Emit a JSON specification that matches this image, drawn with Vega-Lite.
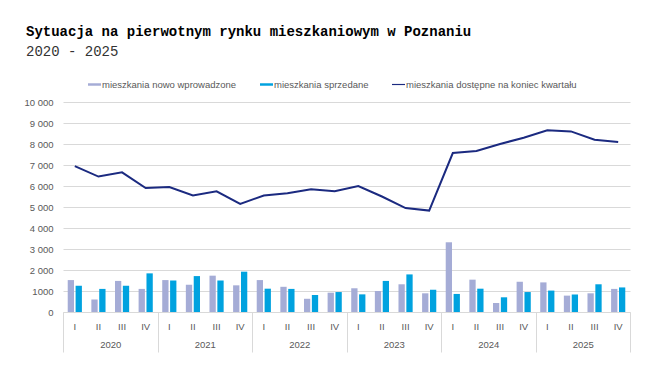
{
  "$schema": "https://vega.github.io/schema/vega-lite/v6.json",
  "width": 567,
  "height": 210,
  "autosize": {"type": "none"},
  "padding": {"left": 63, "top": 102, "right": 38, "bottom": 64},
  "background": "white",
  "config": {
    "view": {"stroke": null},
    "font": "Liberation Sans"
  },
  "title": {
    "text": "Sytuacja na pierwotnym rynku mieszkaniowym w Poznaniu",
    "subtitle": "2020 - 2025",
    "anchor": "start",
    "frame": "group",
    "dx": -37,
    "font": "Liberation Mono",
    "fontSize": 14,
    "fontWeight": "bold",
    "color": "#000000",
    "subtitleFont": "Liberation Mono",
    "subtitleFontSize": 14,
    "subtitleColor": "#333333",
    "subtitlePadding": 6,
    "offset": 19
  },
  "datasets": {
    "bars": [
      {"period": "2020-I", "series": "mieszkania nowo wprowadzone", "value": 1520},
      {"period": "2020-I", "series": "mieszkania sprzedane", "value": 1250},
      {"period": "2020-II", "series": "mieszkania nowo wprowadzone", "value": 590},
      {"period": "2020-II", "series": "mieszkania sprzedane", "value": 1100},
      {"period": "2020-III", "series": "mieszkania nowo wprowadzone", "value": 1480},
      {"period": "2020-III", "series": "mieszkania sprzedane", "value": 1250},
      {"period": "2020-IV", "series": "mieszkania nowo wprowadzone", "value": 1100},
      {"period": "2020-IV", "series": "mieszkania sprzedane", "value": 1840},
      {"period": "2021-I", "series": "mieszkania nowo wprowadzone", "value": 1520},
      {"period": "2021-I", "series": "mieszkania sprzedane", "value": 1500},
      {"period": "2021-II", "series": "mieszkania nowo wprowadzone", "value": 1300},
      {"period": "2021-II", "series": "mieszkania sprzedane", "value": 1710},
      {"period": "2021-III", "series": "mieszkania nowo wprowadzone", "value": 1730},
      {"period": "2021-III", "series": "mieszkania sprzedane", "value": 1500},
      {"period": "2021-IV", "series": "mieszkania nowo wprowadzone", "value": 1270},
      {"period": "2021-IV", "series": "mieszkania sprzedane", "value": 1920},
      {"period": "2022-I", "series": "mieszkania nowo wprowadzone", "value": 1520},
      {"period": "2022-I", "series": "mieszkania sprzedane", "value": 1110},
      {"period": "2022-II", "series": "mieszkania nowo wprowadzone", "value": 1200},
      {"period": "2022-II", "series": "mieszkania sprzedane", "value": 1100},
      {"period": "2022-III", "series": "mieszkania nowo wprowadzone", "value": 630},
      {"period": "2022-III", "series": "mieszkania sprzedane", "value": 810},
      {"period": "2022-IV", "series": "mieszkania nowo wprowadzone", "value": 920},
      {"period": "2022-IV", "series": "mieszkania sprzedane", "value": 950},
      {"period": "2023-I", "series": "mieszkania nowo wprowadzone", "value": 1130},
      {"period": "2023-I", "series": "mieszkania sprzedane", "value": 840},
      {"period": "2023-II", "series": "mieszkania nowo wprowadzone", "value": 1000},
      {"period": "2023-II", "series": "mieszkania sprzedane", "value": 1480},
      {"period": "2023-III", "series": "mieszkania nowo wprowadzone", "value": 1320},
      {"period": "2023-III", "series": "mieszkania sprzedane", "value": 1790},
      {"period": "2023-IV", "series": "mieszkania nowo wprowadzone", "value": 890},
      {"period": "2023-IV", "series": "mieszkania sprzedane", "value": 1060},
      {"period": "2024-I", "series": "mieszkania nowo wprowadzone", "value": 3320},
      {"period": "2024-I", "series": "mieszkania sprzedane", "value": 860},
      {"period": "2024-II", "series": "mieszkania nowo wprowadzone", "value": 1540},
      {"period": "2024-II", "series": "mieszkania sprzedane", "value": 1110},
      {"period": "2024-III", "series": "mieszkania nowo wprowadzone", "value": 430},
      {"period": "2024-III", "series": "mieszkania sprzedane", "value": 700},
      {"period": "2024-IV", "series": "mieszkania nowo wprowadzone", "value": 1440},
      {"period": "2024-IV", "series": "mieszkania sprzedane", "value": 950},
      {"period": "2025-I", "series": "mieszkania nowo wprowadzone", "value": 1410},
      {"period": "2025-I", "series": "mieszkania sprzedane", "value": 1020},
      {"period": "2025-II", "series": "mieszkania nowo wprowadzone", "value": 780},
      {"period": "2025-II", "series": "mieszkania sprzedane", "value": 830},
      {"period": "2025-III", "series": "mieszkania nowo wprowadzone", "value": 890},
      {"period": "2025-III", "series": "mieszkania sprzedane", "value": 1320},
      {"period": "2025-IV", "series": "mieszkania nowo wprowadzone", "value": 1100},
      {"period": "2025-IV", "series": "mieszkania sprzedane", "value": 1170}
    ],
    "line": [
      {"period": "2020-I", "value": 6950},
      {"period": "2020-II", "value": 6450},
      {"period": "2020-III", "value": 6650},
      {"period": "2020-IV", "value": 5900},
      {"period": "2021-I", "value": 5950},
      {"period": "2021-II", "value": 5550},
      {"period": "2021-III", "value": 5750},
      {"period": "2021-IV", "value": 5150},
      {"period": "2022-I", "value": 5550},
      {"period": "2022-II", "value": 5650},
      {"period": "2022-III", "value": 5850},
      {"period": "2022-IV", "value": 5750},
      {"period": "2023-I", "value": 6000},
      {"period": "2023-II", "value": 5500},
      {"period": "2023-III", "value": 4950},
      {"period": "2023-IV", "value": 4830},
      {"period": "2024-I", "value": 7570},
      {"period": "2024-II", "value": 7670},
      {"period": "2024-III", "value": 8000},
      {"period": "2024-IV", "value": 8300},
      {"period": "2025-I", "value": 8650},
      {"period": "2025-II", "value": 8600},
      {"period": "2025-III", "value": 8200},
      {"period": "2025-IV", "value": 8100}
    ],
    "years": [
      {"year": "2020"}, {"year": "2021"}, {"year": "2022"},
      {"year": "2023"}, {"year": "2024"}, {"year": "2025"}
    ]
  },
  "layer": [
    {
      "layer": [
        {
          "data": {"name": "bars"},
          "mark": {"type": "bar"},
          "encoding": {
            "x": {
              "field": "period",
              "type": "nominal",
              "sort": null,
              "scale": {"paddingInner": 0.4, "paddingOuter": 0.2},
              "axis": {
                "title": null,
                "labelExpr": "split(datum.value, '-')[1]",
                "labelAngle": 0,
                "ticks": false,
                "domain": true,
                "domainColor": "#D9D9D9",
                "labelColor": "#595959",
                "labelFontSize": 9.5,
                "labelPadding": 9
              }
            },
            "xOffset": {
              "field": "series",
              "type": "nominal",
              "sort": ["mieszkania nowo wprowadzone", "mieszkania sprzedane"],
              "scale": {"paddingInner": 0.2, "paddingOuter": 0}
            },
            "y": {
              "field": "value",
              "type": "quantitative",
              "scale": {"domain": [0, 10000], "nice": false},
              "axis": {
                "title": null,
                "values": [0, 1000, 2000, 3000, 4000, 5000, 6000, 7000, 8000, 9000, 10000],
                "labelExpr": "datum.value == 1000 ? '1000' : replace(format(datum.value, ','), ',', ' ')",
                "labelOverlap": false,
                "domain": false,
                "ticks": false,
                "gridColor": "#D9D9D9",
                "labelColor": "#595959",
                "labelFontSize": 9.5,
                "labelPadding": 10
              }
            },
            "color": {
              "field": "series",
              "type": "nominal",
              "scale": {
                "domain": ["mieszkania nowo wprowadzone", "mieszkania sprzedane", "mieszkania dostępne na koniec kwartału"],
                "range": ["#A5ACD6", "#00A2DF", "#1B2A80"]
              },
              "legend": {
                "title": null,
                "orient": "none",
                "direction": "horizontal",
                "legendX": 25,
                "legendY": -24,
                "symbolSize": 169,
                "symbolStrokeWidth": 0,
                "labelFontSize": 9.5,
                "labelColor": "#595959",
                "labelOffset": 1,
                "columnPadding": 23,
                "labelLimit": 300,
                "encode": {
                  "symbols": {
                    "update": {
                      "shape": {"signal": "datum.value === 'mieszkania dostępne na koniec kwartału' ? 'M-1,-0.09H1V0.09H-1Z' : 'M-1,-0.19H1V0.19H-1Z'"}
                    }
                  }
                }
              }
            }
          }
        },
        {
          "data": {"name": "line"},
          "mark": {"type": "line", "color": "#1B2A80", "strokeWidth": 2},
          "encoding": {
            "x": {"field": "period", "type": "nominal", "sort": null, "bandPosition": 0.5},
            "y": {
              "field": "value",
              "type": "quantitative",
              "axis": {
                "title": null,
                "values": [0, 1000, 2000, 3000, 4000, 5000, 6000, 7000, 8000, 9000, 10000],
                "labelExpr": "datum.value == 1000 ? '1000' : replace(format(datum.value, ','), ',', ' ')",
                "labelOverlap": false,
                "domain": false,
                "ticks": false,
                "gridColor": "#D9D9D9",
                "labelColor": "#595959",
                "labelFontSize": 9.5,
                "labelPadding": 10
              }
            }
          }
        }
      ]
    },
    {
      "data": {"name": "years"},
      "mark": {"type": "point", "opacity": 0},
      "encoding": {
        "x": {
          "field": "year",
          "type": "nominal",
          "scale": {"type": "band", "paddingInner": 0, "paddingOuter": 0},
          "axis": {
            "title": null,
            "orient": "bottom",
            "labelAngle": 0,
            "domain": false,
            "grid": false,
            "ticks": true,
            "tickBand": "extent",
            "tickSize": 40,
            "tickColor": "#D9D9D9",
            "labelColor": "#595959",
            "labelFontSize": 9.5,
            "labelPadding": -13
          }
        }
      }
    }
  ],
  "resolve": {"scale": {"x": "independent"}, "axis": {"x": "independent"}}
}
